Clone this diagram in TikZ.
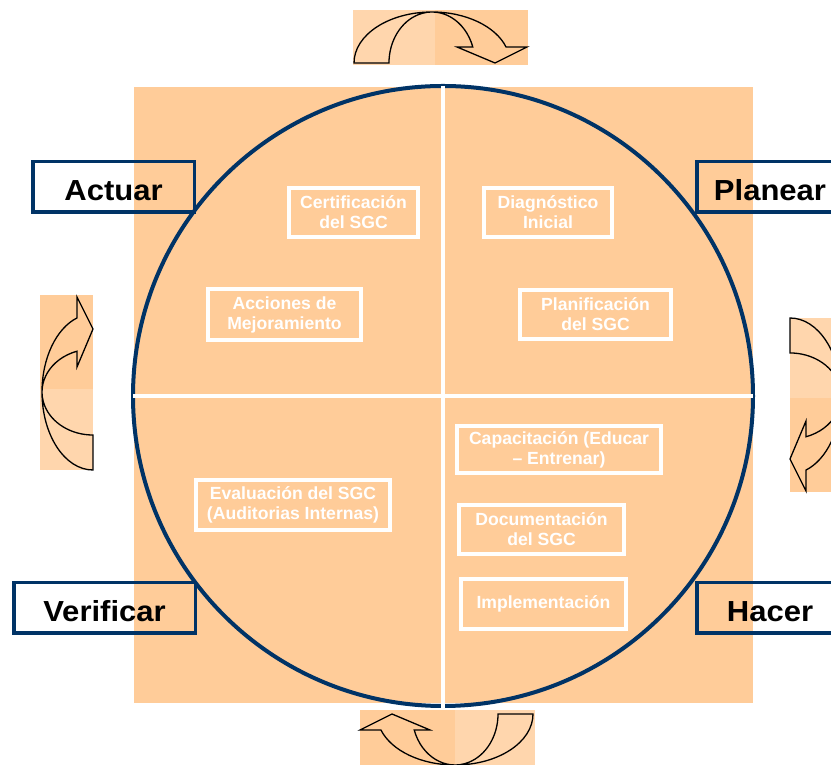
\documentclass[tikz,border=0pt]{standalone}
\usepackage{fontspec}
\setmainfont{Liberation Sans}
\newfontfamily\phasefont{Liberation Sans}[FakeStretch=1.07]
\definecolor{sqorange}{HTML}{FFCC99}
\definecolor{lightorange}{HTML}{FFD6AD}
\definecolor{navy}{HTML}{003366}
\tikzset{
  x=1pt, y=1pt,
  phase/.style={draw=navy, line width=3.5pt, inner sep=0pt, align=center,
    text height=27pt, text depth=0pt,
    font=\phasefont\fontsize{29}{34}\selectfont\bfseries, text=black},
  taskbox/.style={draw=white, line width=4pt, inner sep=0pt, align=center,
    font=\fontsize{17.6}{20}\selectfont\bfseries, text=white},
  arrowline/.style={draw=black, line width=1.3pt, line join=miter},
}
% curved block arrow: arch of depth 51, outer half-span 78, inner 43, head on the right
\newcommand\bendarrow[2]{%
  \draw[arrowline, shift={#1}, rotate=#2]
    (-78pt,0pt) arc[start angle=180, end angle=18.3, x radius=78pt, y radius=51pt]
    -- (95pt,16pt) -- (63pt,0pt) -- (25pt,16pt) -- (40.8pt,16pt)
    arc[start angle=18.3, end angle=180, x radius=43pt, y radius=51pt]
    -- cycle;}
\begin{document}
\begin{tikzpicture}
\useasboundingbox (0,0) rectangle (831,765);
\clip (0,0) rectangle (831,765);

% background square
\fill[sqorange] (134,62) rectangle (753,678);

% cycle circle and quadrant dividers
\draw[navy, line width=4pt] (443,369) circle[radius=310pt];
\draw[white, line width=4.5pt] (443,679) -- (443,57);
\draw[white, line width=4.5pt] (133,369) -- (753,369);

% rotating arrows around the cycle
\fill[lightorange] (353,700) rectangle (435,755);
\fill[sqorange] (435,700) rectangle (528,755);
\bendarrow{(432,702)}{0}

\fill[sqorange] (40,376) rectangle (93,470);
\fill[lightorange] (40,295) rectangle (93,376);
\bendarrow{(93,373)}{90}

\fill[lightorange] (790,367) rectangle (850,447);
\fill[sqorange] (790,273) rectangle (850,367);
\bendarrow{(790,369)}{-90}

\fill[sqorange] (360,-5) rectangle (455,55);
\fill[lightorange] (455,-5) rectangle (535,55);
\bendarrow{(455,51)}{180}

% phase labels
\node[phase, minimum width=161.5pt, minimum height=50.5pt] (actuar) at (113.5,578) {Actuar};
\node[phase, minimum width=146.5pt, minimum height=50.5pt] (planear) at (770,578) {Planear};
\node[phase, minimum width=181.5pt, minimum height=50.5pt] (verificar) at (104.5,157) {Verificar};
\node[phase, minimum width=146.5pt, minimum height=50.5pt] (hacer) at (770,157) {Hacer};

% activities
\node[taskbox, minimum width=129pt, minimum height=49pt] (cert) at (353.5,552.5) {Certificación\\del SGC};
\node[taskbox, minimum width=128pt, minimum height=49pt] (diag) at (548,552.5) {Diagnóstico\\Inicial};
\node[taskbox, minimum width=153pt, minimum height=51pt] (acc) at (284.5,450.5) {Acciones de\\Mejoramiento};
\node[taskbox, minimum width=151pt, minimum height=49pt] (plan) at (595.5,450.5) {Planificación\\del SGC};
\node[taskbox, minimum width=204pt, minimum height=47pt] (cap) at (559,315.5) {Capacitación (Educar\\– Entrenar)};
\node[taskbox, minimum width=194pt, minimum height=50pt] (eval) at (293,260) {Evaluación del SGC\\(Auditorias Internas)};
\node[taskbox, minimum width=165pt, minimum height=49pt] (doc) at (541.5,235.5) {Documentación\\del SGC};
\node[taskbox, minimum width=165pt, minimum height=50pt] (impl) at (543.5,161) {Implementación};
\end{tikzpicture}
\end{document}
